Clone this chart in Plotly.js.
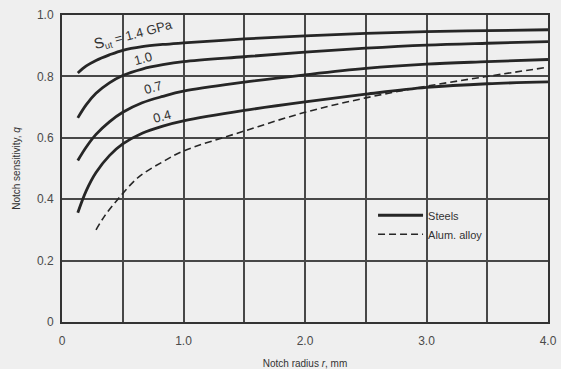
<!DOCTYPE html>
<html><head><meta charset="utf-8">
<script src="https://cdn.plot.ly/plotly-3.0.1.min.js"></script>
<style>html,body{margin:0;padding:0;background:#efefef}</style>
</head><body><div id="c" style="width:561px;height:369px"></div>
<script>
// Notch radius r (mm) and notch sensitivity q
var rSteel = [0.13,0.2,0.28,0.39,0.5,0.66,0.83,1.0,1.5,2.0,2.5,3.0,3.5,4.0];
var q14 = [0.811,0.834,0.852,0.87,0.885,0.897,0.904,0.909,0.922,0.932,0.94,0.946,0.949,0.952];
var q10 = [0.665,0.708,0.745,0.779,0.803,0.824,0.838,0.848,0.864,0.879,0.892,0.902,0.908,0.913];
var q07 = [0.526,0.57,0.611,0.652,0.683,0.714,0.735,0.752,0.781,0.805,0.826,0.84,0.848,0.855];
var q04 = [0.356,0.428,0.487,0.542,0.58,0.615,0.638,0.655,0.689,0.717,0.742,0.764,0.776,0.782];
var rAl = [0.28,0.35,0.46,0.63,0.83,1.0,1.5,2.0,2.5,3.0,3.5,4.0];
var qAl = [0.3,0.345,0.4,0.472,0.522,0.557,0.622,0.683,0.73,0.768,0.8,0.83];
var xTickVals = [0,0.5,1,1.5,2,2.5,3,3.5,4];
var xTickText = ['0','','1.0','','2.0','','3.0','','4.0'];
var yTickVals = [0,0.2,0.4,0.6,0.8,1.0];
var yTickText = ['0','0.2','0.4','0.6','0.8','1.0'];
var curveLabels = ['<span style="font-size:15px">S</span><sub>ut</sub> = 1.4 GPa','1.0','0.7','0.4'];
var labelX = [0.585,0.665,0.748,0.82];
var labelY = [0.935,0.858,0.764,0.669];

var F = 'Liberation Sans, Arial, sans-serif';
var lc = '#262626';
function steel(q, show){
  return {x:rSteel, y:q, mode:'lines', line:{color:lc,width:2.8,shape:'spline',smoothing:1},
          name:'Steels', showlegend:show, hoverinfo:'skip'};
}
var traces = [steel(q14,true),steel(q10,false),steel(q07,false),steel(q04,false),
  {x:rAl,y:qAl,mode:'lines',line:{color:lc,width:1.6,dash:'7px,4px',shape:'spline',smoothing:1},
   name:'Alum. alloy',showlegend:true,hoverinfo:'skip'}];

var ann = curveLabels.map(function(t,i){
  return {x:labelX[i],y:labelY[i],xref:'x',yref:'y',text:t,showarrow:false,
          textangle:-15,font:{family:F,size:13,color:'#333'}};
});

var layout = {
  width:561,height:369,
  margin:{l:62,r:13,t:15,b:47},
  paper_bgcolor:'#efefef',plot_bgcolor:'#efefef',
  showlegend:true,
  legend:{x:0.64,y:0.395,xanchor:'left',yanchor:'top',bgcolor:'rgba(0,0,0,0)',
          font:{family:F,size:11,color:'#333'},
          tracegroupgap:0,itemwidth:45},
  xaxis:{range:[0,4],tickvals:xTickVals,ticktext:xTickText,showgrid:true,
         gridcolor:'#484848',gridwidth:2,zeroline:false,showline:true,linecolor:'#333',
         linewidth:2,mirror:true,ticks:'',ticklabelstandoff:7,
         tickfont:{family:F,size:12,color:'#4a4a4a'},
         title:{text:'Notch radius <i>r</i>, mm',standoff:14,
                font:{family:F,size:10,color:'#333'}}},
  yaxis:{range:[0,1],tickvals:yTickVals,ticktext:yTickText,showgrid:true,
         gridcolor:'#484848',gridwidth:2,zeroline:false,showline:true,linecolor:'#333',
         linewidth:2,mirror:true,ticks:'',ticklabelstandoff:4,
         tickfont:{family:F,size:12,color:'#4a4a4a'},
         title:{text:'Notch sensitivity, <i>q</i>',standoff:14,
                font:{family:F,size:10,color:'#333'}}},
  annotations:ann
};
Plotly.newPlot('c',traces,layout,{displayModeBar:false,staticPlot:true});
</script></body></html>
